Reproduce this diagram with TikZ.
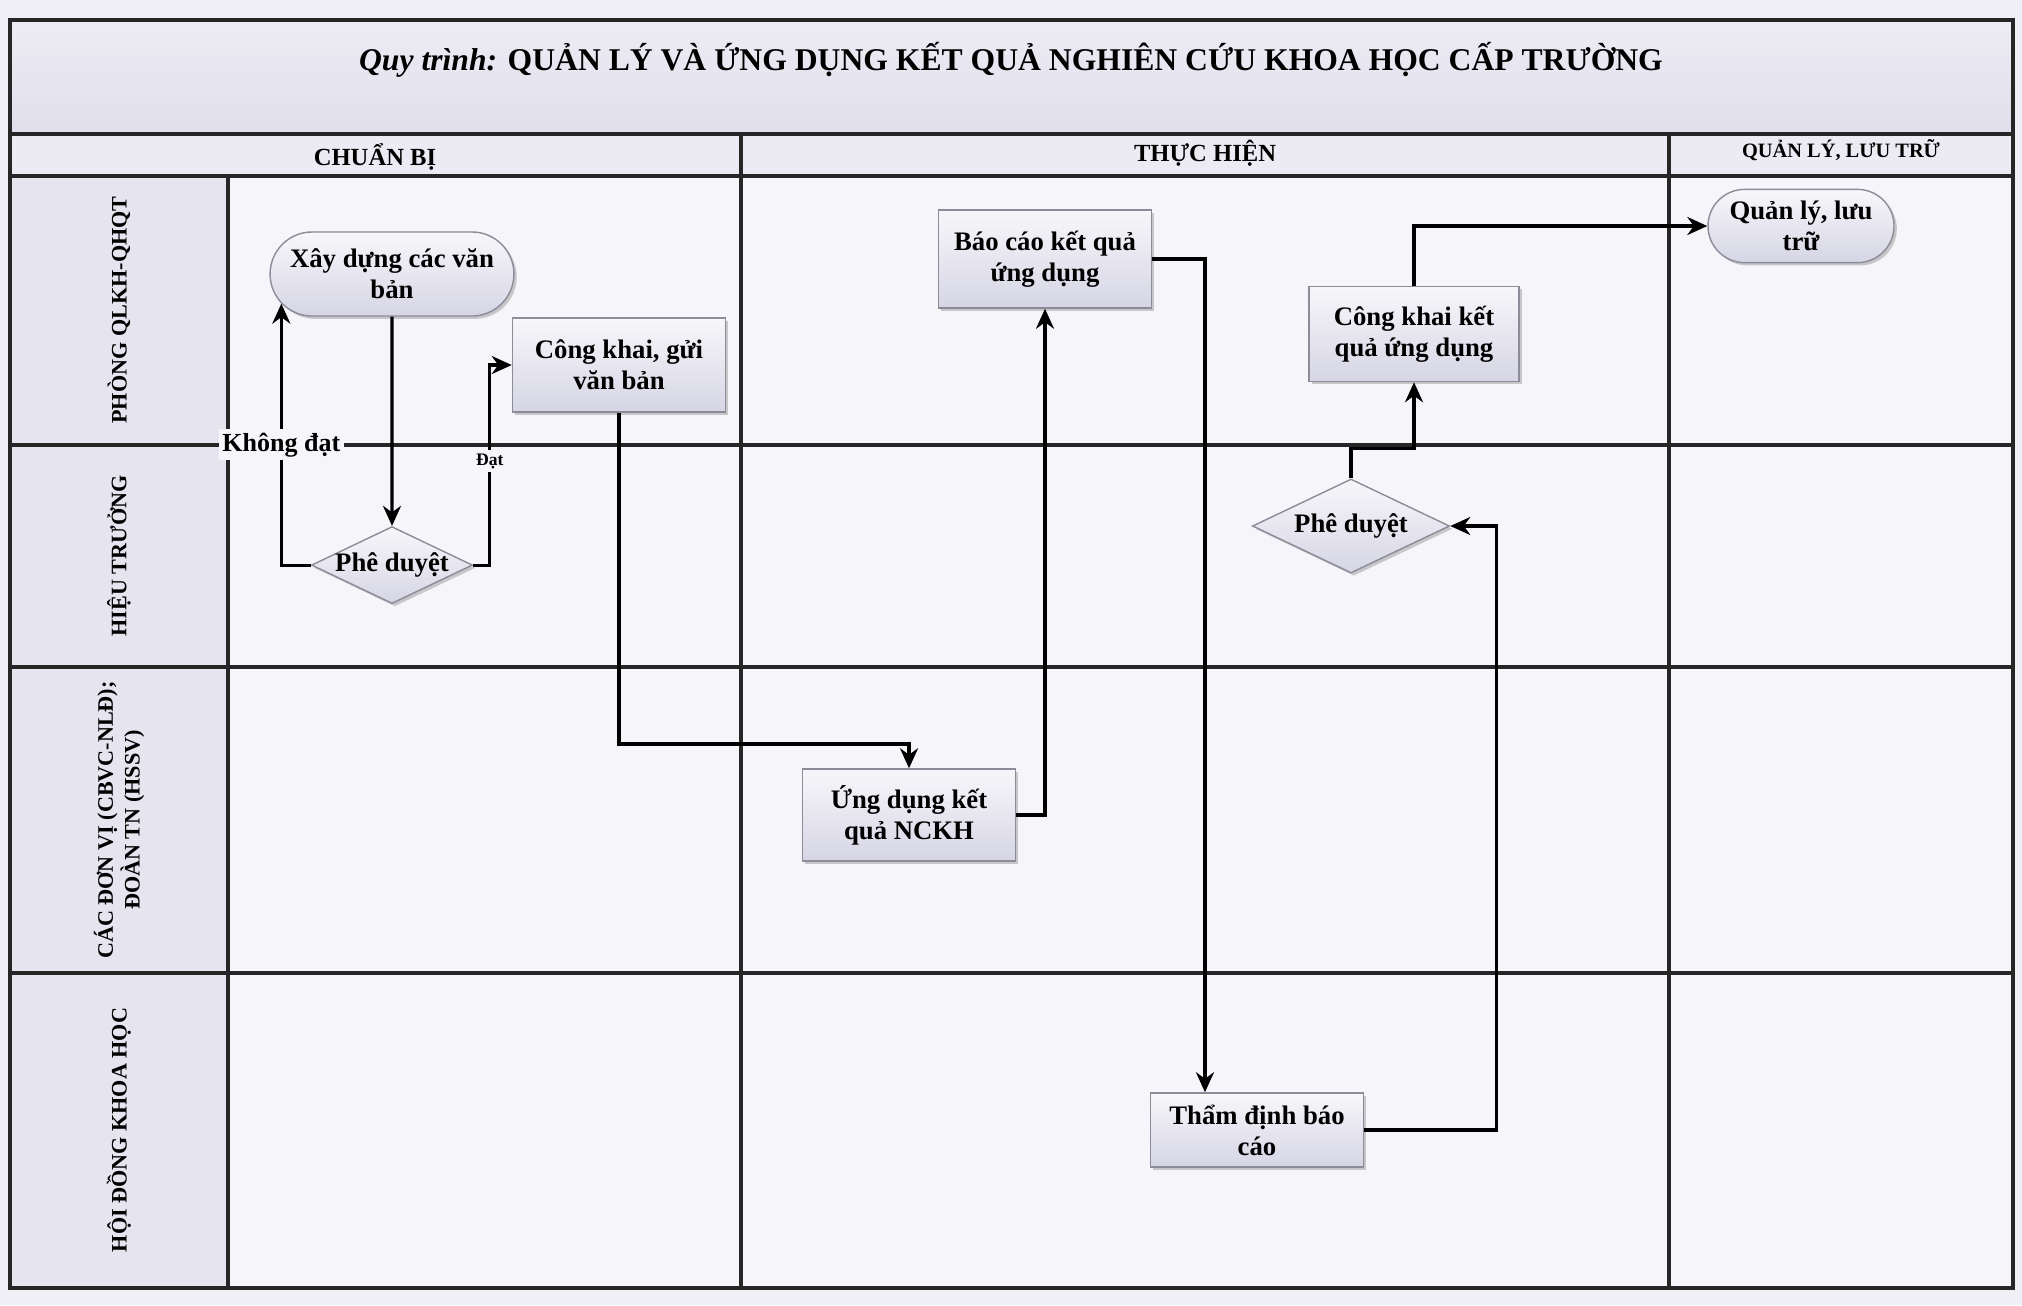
\documentclass[tikz,border=0pt]{standalone}
\usepackage{fontspec}
\setmainfont{Liberation Serif}
\usepackage{xcolor}
\usetikzlibrary{shapes.geometric,shapes.misc,arrows.meta,positioning,calc,shadows}

\definecolor{pagebg}{HTML}{EFEFF5}
\definecolor{cellbg}{HTML}{F6F6FA}
\definecolor{titletop}{HTML}{EEEDF5}
\definecolor{titlebot}{HTML}{DFDEEB}
\definecolor{headbg}{HTML}{ECEBF3}
\definecolor{colbg}{HTML}{E6E5EF}
\definecolor{boxtop}{HTML}{F7F7FA}
\definecolor{boxbot}{HTML}{D6D5E5}
\definecolor{boxline}{HTML}{8C8C99}

\begin{document}
\begin{tikzpicture}[
  x=0.01cm, y=-0.01cm,
  lane/.style={draw=black!85, line width=0.9pt},
  head/.style={font=\fontsize{7}{8}\selectfont\bfseries},
  lanelbl/.style={rotate=90, align=center, font=\fontsize{6.3}{7.6}\selectfont\bfseries},
  box/.style={draw=boxline, top color=boxtop, bottom color=boxbot, align=center,
              minimum width=2.13cm, minimum height=0.94cm,
              font=\fontsize{7.6}{8.8}\selectfont\bfseries,
              drop shadow={shadow xshift=0.8pt, shadow yshift=-0.8pt, fill=black!40, opacity=0.5}},
  term/.style={box, rounded rectangle},
  decis/.style={box, diamond, shape aspect=2, inner xsep=-4pt, inner ysep=-2pt},
  flow/.style={draw, line width=0.9pt, -{Stealth[length=2mm, width=1.8mm]}},
  lbl/.style={fill=cellbg, inner sep=1pt, font=\fontsize{7.4}{8}\selectfont\bfseries}
]
\useasboundingbox (0,0) rectangle (2022,1305);
% Page and lanes
\fill[pagebg] (0,0) rectangle (2022,1305);
\fill[cellbg] (10,176) rectangle (2013,1288);
\shade[top color=titletop, bottom color=titlebot] (10,20) rectangle (2013,134);
\fill[headbg] (10,134) rectangle (2013,176);
\fill[colbg] (10,176) rectangle (228,1288);
\draw[lane] (10,20) rectangle (2013,1288);
\draw[lane] (10,134) -- (2013,134);
\draw[lane] (10,176) -- (2013,176);
\foreach \y in {445,667,973} \draw[lane] (10,\y) -- (2013,\y);
\draw[lane] (228,176) -- (228,1288);
\draw[lane] (741,134) -- (741,1288);
\draw[lane] (1669,134) -- (1669,1288);
% Title and headers
\node[font=\fontsize{9}{11}\selectfont\bfseries] (title) at (1011,60)
  {\textit{Quy trình:} QUẢN LÝ VÀ ỨNG DỤNG KẾT QUẢ NGHIÊN CỨU KHOA HỌC CẤP TRƯỜNG};
\node[head] (hchuanbi) at (375,157) {CHUẨN BỊ};
\node[head] (hthuchien) at (1205,153) {THỰC HIỆN};
\node[head, font=\fontsize{5.8}{7}\selectfont\bfseries] (hquanly) at (1841,150) {QUẢN LÝ, LƯU TRỮ};
% Lane labels
\node[lanelbl] (lqlkh) at (119,310) {PHÒNG QLKH-QHQT};
\node[lanelbl] (lht) at (119,556) {HIỆU TRƯỞNG};
\node[lanelbl] (ldonvi) at (119,820) {CÁC ĐƠN VỊ (CBVC-NLĐ);\\ĐOÀN TN (HSSV)};
\node[lanelbl] (lhdkh) at (119,1130) {HỘI ĐỒNG KHOA HỌC};
% Steps
\node[term, minimum width=2.39cm, minimum height=0.84cm] (xaydung) at (392,274) {Xây dựng các văn\\bản};
\node[decis, minimum width=1.61cm, minimum height=0.77cm, below=2.09cm of xaydung] (pheduyet1) {Phê duyệt};
\node[box] (congkhai) at (619,365) {Công khai, gửi\\văn bản};
\node[box, minimum height=0.98cm] (baocao) at (1045,259) {Báo cáo kết quả\\ứng dụng};
\node[box, minimum height=0.92cm] (ungdung) at (909,815) {Ứng dụng kết\\quả NCKH};
\node[box, minimum height=0.68cm] (thamdinh) at (1257,1130) {Thẩm định báo\\cáo};
\node[decis, minimum width=1.97cm, minimum height=0.94cm] (pheduyet2) at (1351,526) {Phê duyệt};
\node[box, minimum width=2.1cm, minimum height=0.95cm] (congkhaikq) at (1414,334) {Công khai kết\\quả ứng dụng};
\node[term, minimum width=1.77cm, minimum height=0.57cm] (quanly) at (1801,226) {Quản lý, lưu\\trữ};
% Connections
\coordinate (k1) at (619,744);
\draw[flow] (xaydung) -- (pheduyet1);
\draw[flow] (pheduyet1.west) -| node[lbl, pos=0.73] (khongdat) {Không đạt} (xaydung.195);
\draw[flow] (pheduyet1.east) -| node[lbl, pos=0.76, font=\fontsize{5}{6}\selectfont\bfseries] (dat) {Đạt}
  ($(congkhai.west)+(-22,0)$) -- (congkhai.west);
\draw[flow] (congkhai.south) -- (k1) -| (ungdung.north);
\draw[flow] (ungdung.east) -| (baocao.south);
\draw[flow] (baocao.east) -| ([xshift=-0.52cm]thamdinh.north);
\draw[flow] (thamdinh.east) -- ++(132,0) |- (pheduyet2.east);
\draw[flow] (pheduyet2.north) -- ++(0,-30) -| (congkhaikq.south);
\draw[flow] (congkhaikq.north) |- (quanly.west);
\end{tikzpicture}
\end{document}
